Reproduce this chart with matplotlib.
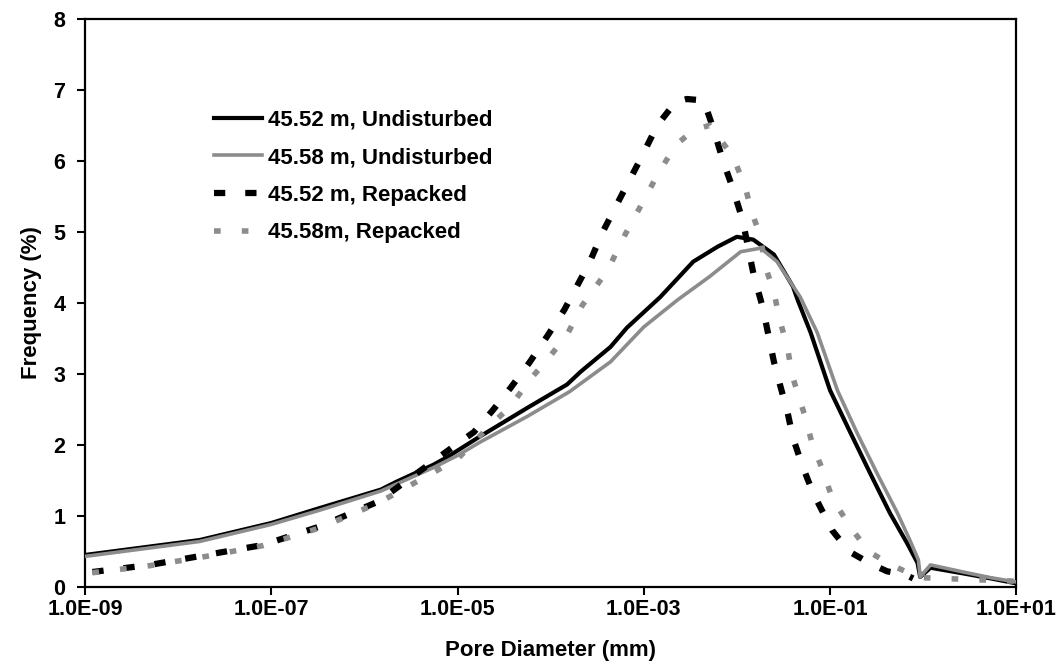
import matplotlib
matplotlib.use("Agg")
import matplotlib.pyplot as plt
from matplotlib.ticker import FuncFormatter, NullLocator

plt.rcParams["font.family"] = ["Liberation Sans", "DejaVu Sans"]
plt.rcParams["font.weight"] = "bold"

# -----------------------------
# Data
# -----------------------------
d_und_52 = [1.0e-9, 1.7e-8, 1.0e-7, 3.3e-7, 1.5e-6, 2.2e-6, 5.5e-6, 7.8e-6, 1.7e-5,
            5.6e-5, 1.5e-4, 2.1e-4, 4.4e-4, 6.6e-4, 1.5e-3, 3.4e-3, 6.2e-3, 1.0e-2,
            1.5e-2, 2.5e-2, 4.0e-2, 4.5e-2, 6.2e-2, 1.0e-1, 1.66e-1, 2.7e-1, 4.4e-1,
            6.7e-1, 8.7e-1, 9.3e-1, 1.2, 2.7, 5.3, 10.0]
f_und_52 = [0.45, 0.66, 0.90, 1.11, 1.37, 1.48, 1.72, 1.83, 2.11,
            2.52, 2.85, 3.03, 3.38, 3.65, 4.08, 4.58, 4.79, 4.93,
            4.89, 4.68, 4.23, 4.04, 3.58, 2.77, 2.17, 1.60, 1.04,
            0.62, 0.34, 0.14, 0.27, 0.19, 0.12, 0.05]

d_und_58 = [1.0e-9, 1.7e-8, 1.0e-7, 3.3e-7, 1.5e-6, 5.5e-6, 1.0e-5, 1.7e-5, 5.6e-5,
            1.6e-4, 4.4e-4, 1.0e-3, 2.3e-3, 5.1e-3, 1.1e-2, 1.8e-2, 2.7e-2, 4.8e-2,
            7.3e-2, 1.2e-1, 1.95e-1, 3.2e-1, 5.3e-1, 7.2e-1, 8.9e-1, 9.3e-1, 1.2,
            2.7, 5.3, 10.0]
f_und_58 = [0.43, 0.64, 0.88, 1.08, 1.35, 1.68, 1.85, 2.03, 2.40,
            2.75, 3.17, 3.66, 4.04, 4.37, 4.72, 4.77, 4.58, 4.08,
            3.58, 2.77, 2.17, 1.60, 1.04, 0.66, 0.38, 0.14, 0.31,
            0.21, 0.13, 0.07]

d_rep_52 = [1.2e-9, 5.0e-9, 2.0e-8, 8.1e-8, 3.3e-7, 1.4e-6, 2.1e-6, 8.9e-6, 1.5e-5,
            2.4e-5, 3.7e-5, 6.0e-5, 9.4e-5, 1.4e-4, 2.6e-4, 3.6e-4, 5.6e-4, 9.1e-4,
            1.4e-3, 2.2e-3, 2.9e-3, 4.4e-3, 5.6e-3, 7.1e-3, 9.1e-3, 1.15e-2, 1.5e-2,
            1.9e-2, 2.5e-2, 2.9e-2, 3.5e-2, 4.0e-2, 5.1e-2, 6.6e-2, 1.05e-1, 1.6e-1,
            2.7e-1, 4.1e-1, 6.5e-1, 7.8e-1]
f_rep_52 = [0.21, 0.31, 0.45, 0.59, 0.85, 1.20, 1.37, 1.97, 2.18,
            2.49, 2.80, 3.17, 3.55, 3.90, 4.56, 4.99, 5.48, 6.01,
            6.50, 6.83, 6.87, 6.85, 6.45, 6.00, 5.60, 5.17, 4.42,
            3.93, 3.17, 2.85, 2.46, 2.10, 1.69, 1.32, 0.80, 0.50,
            0.33, 0.22, 0.17, 0.12]

d_rep_58 = [1.2e-9, 5.0e-9, 2.0e-8, 8.0e-8, 3.3e-7, 1.4e-6, 1.0e-5, 1.5e-5, 2.4e-5,
            3.7e-5, 6.0e-5, 9.2e-5, 1.5e-4, 2.2e-4, 4.1e-4, 6.3e-4, 9.6e-4, 1.4e-3,
            2.2e-3, 3.4e-3, 5.1e-3, 9.1e-3, 1.23e-2, 1.45e-2, 1.8e-2, 2.0e-2, 2.5e-2,
            2.9e-2, 3.5e-2, 3.9e-2, 4.4e-2, 5.4e-2, 6.4e-2, 8.3e-2, 1.07e-1, 1.75e-1,
            2.6e-1, 4.5e-1, 6.7e-1, 1.0, 1.5, 4.1, 10.0]
f_rep_58 = [0.20, 0.30, 0.43, 0.58, 0.83, 1.18, 1.80, 2.04, 2.31,
            2.54, 2.92, 3.20, 3.55, 3.97, 4.46, 4.96, 5.40, 5.80,
            6.22, 6.43, 6.50, 6.06, 5.63, 5.27, 4.93, 4.53, 4.15,
            3.75, 3.37, 2.99, 2.77, 2.40, 2.03, 1.65, 1.23, 0.80,
            0.50, 0.31, 0.21, 0.13, 0.12, 0.10, 0.08]

labels = ["45.52 m, Undisturbed", "45.58 m, Undisturbed",
          "45.52 m, Repacked", "45.58m, Repacked"]

x_ticks = [1e-9, 1e-7, 1e-5, 1e-3, 1e-1, 1e1]
y_ticks = [0, 1, 2, 3, 4, 5, 6, 7, 8]

# -----------------------------
# Plot
# -----------------------------
fig = plt.figure(figsize=(10.63, 6.70), dpi=100)
ax = fig.add_axes([0.080, 0.124, 0.876, 0.848])

ax.plot(d_und_52, f_und_52, color="black", lw=3.0, label=labels[0], zorder=3)
ax.plot(d_und_58, f_und_58, color="#8c8c8c", lw=2.6, label=labels[1], zorder=4)
ax.plot(d_rep_52, f_rep_52, color="black", lw=4.5, linestyle=(0, (1.8, 3.2)),
        label=labels[2], zorder=5)
ax.plot(d_rep_58, f_rep_58, color="#8c8c8c", lw=4.0, linestyle=(0, (1.2, 3.8)),
        label=labels[3], zorder=5)

ax.set_xscale("log")
ax.set_xlim(1e-9, 1e1)
ax.set_ylim(0, 8)
ax.set_xticks(x_ticks)
ax.xaxis.set_major_formatter(FuncFormatter(lambda v, p: f"{v:.1E}"))
ax.xaxis.set_minor_locator(NullLocator())
ax.set_yticks(y_ticks)

for s in ax.spines.values():
    s.set_linewidth(1.6)
ax.tick_params(axis="both", direction="out", length=6, width=1.5,
               labelsize=15.5)
ax.tick_params(axis="x", pad=3)
ax.tick_params(axis="y", pad=8)
for t in ax.get_xticklabels() + ax.get_yticklabels():
    t.set_fontweight("bold")

ax.set_xlabel("Pore Diameter (mm)", fontsize=16, fontweight="bold", labelpad=14)
ax.set_ylabel("Frequency (%)", fontsize=16, fontweight="bold", labelpad=8)

leg = ax.legend(loc="upper left", bbox_to_anchor=(0.193, 0.85),
                bbox_transform=fig.transFigure, frameon=False,
                handlelength=2.15, handletextpad=0.3, borderaxespad=0,
                labelspacing=0.75, prop={"weight": "bold", "size": 16})

fig.savefig("out.png", dpi=100)
